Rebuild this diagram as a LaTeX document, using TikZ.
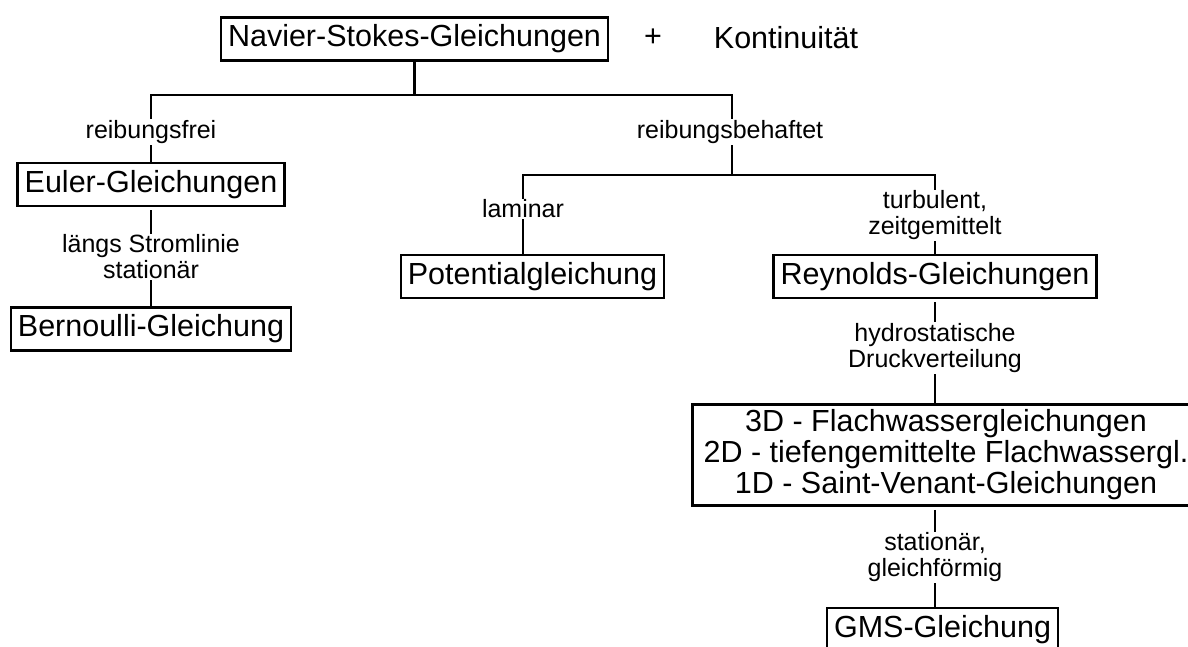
\documentclass[tikz,border=0pt]{standalone}
\usepackage{fontspec}
\setmainfont{Liberation Sans}

\tikzset{
  eqbox/.style={draw, line width=2.6pt, font=\fontsize{30.5}{31}\selectfont,
    inner xsep=7pt, inner ysep=0pt, align=center},
  eq/.style={eqbox, minimum height=43pt, text height=22pt, text depth=6.5pt},
  cond/.style={fill=white, inner sep=1pt, font=\fontsize{25}{26}\selectfont, align=center},
  conn/.style={line width=2.6pt},
}

\begin{document}
\begin{tikzpicture}[x=1pt, y=-1pt]
\useasboundingbox (0,0) rectangle (1188,646);

% Gleichungen
\node[eq] (ns)   at (414.5, 39)  {Navier-Stokes-Gleichungen};
\node[font=\fontsize{30.5}{31}\selectfont] (plus) at (653, 38) {+};
\node[font=\fontsize{30.5}{31}\selectfont] (kont) at (786, 38) {Kontinuität};
\node[eq] (euler) at (151, 184.5) {Euler-Gleichungen};
\node[eq] (bern)  at (151, 329)   {Bernoulli-Gleichung};
\node[eq] (pot)   at (532.5, 276.5) {Potentialgleichung};
\node[eq] (rey)   at (935, 276.5) {Reynolds-Gleichungen};
\node[eqbox, inner xsep=11pt, minimum height=101pt] (flach) at (946, 455)
  {3D - Flachwassergleichungen\\2D - tiefengemittelte Flachwassergl.\\1D - Saint-Venant-Gleichungen};
\node[eq] (gms)   at (942.5, 629.5) {GMS-Gleichung};

% Verzweigungen
\coordinate (fork1) at (414.5, 95);
\coordinate (fork2) at (732, 175);
\draw[conn] (ns.south) -- (fork1);
\draw[conn] (euler.north) |- (fork1) -| (fork2);
\draw[conn] ([xshift=-9.5pt]pot.north) |- (fork2) -| (rey.north);
\draw[conn] ([yshift=-3pt]euler.south) -- (bern.north);
\draw[conn] ([yshift=-3pt]rey.south) -- (rey.south |- flach.north);
\draw[conn] ([yshift=-3pt]flach.south -| rey.south) -- (gms.north -| rey.south);

% Bedingungen
\node[cond] (frei)  at (151, 132)  {reibungsfrei};
\node[cond] (beh)   at (730, 132)  {reibungsbehaftet};
\node[cond] (lam)   at (523, 209)  {laminar};
\node[cond] (turb)  at (935, 215.5) {turbulent,\\zeitgemittelt};
\node[cond] (strom) at (151, 257)  {längs Stromlinie\\stationär};
\node[cond] (hydro) at (935, 348)  {hydrostatische\\Druckverteilung};
\node[cond] (stat)  at (935, 557.5) {stationär,\\gleichförmig};
\end{tikzpicture}
\end{document}
